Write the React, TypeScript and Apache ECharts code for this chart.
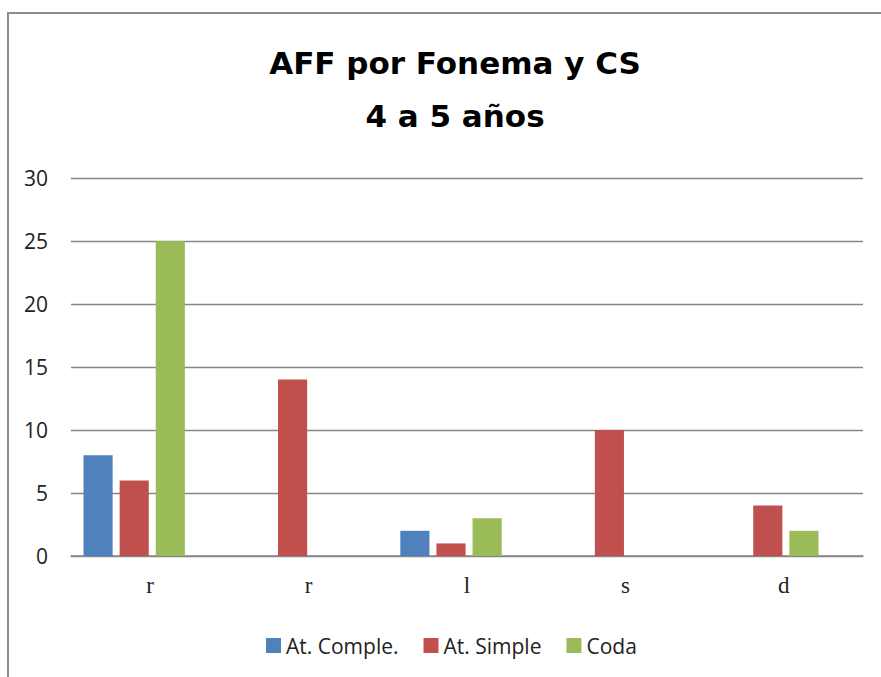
import React, { useEffect, useRef } from "react";
import * as echarts from "echarts";

const categories = ["r", "r", "l", "s", "d"];
const atComple = [8, 0, 2, 0, 0];
const atSimple = [6, 14, 1, 10, 4];
const coda = [25, 0, 3, 0, 2];
const seriesNames = ["At. Comple.", "At. Simple", "Coda"];
const titleText = "AFF por Fonema y CS\n4 a 5 años";

export default function App() {
  const ref = useRef<HTMLDivElement>(null);
  useEffect(() => {
    const chart = echarts.init(ref.current!, null, { renderer: "svg" });
    const font = "'Open Sans', Lato, sans-serif";
    const barCommon = { type: "bar", xAxisIndex: 1, yAxisIndex: 1, barGap: "24%", barCategoryGap: "36%" };
    chart.setOption({
      animation: false,
      backgroundColor: "#ffffff",
      title: {
        text: titleText,
        left: 450,
        top: 31,
        textAlign: "center",
        textStyle: {
          fontFamily: "'DejaVu Sans', sans-serif",
          fontWeight: "bold",
          fontSize: 31,
          lineHeight: 53,
          color: "#000000",
        },
      },
      graphic: [
        {
          type: "rect",
          shape: { x: 8, y: 13, width: 1000, height: 1000 },
          style: { fill: "none", stroke: "#8c8c8c", lineWidth: 2 },
          silent: true,
        },
      ],
      legend: {
        data: seriesNames,
        left: 261,
        top: 630,
        itemWidth: 15,
        itemHeight: 15,
        itemGap: 25,
        icon: "rect",
        textStyle: { fontFamily: font, fontSize: 21, color: "#222" },
      },
      grid: [
        { left: 71, right: 18, top: 178, bottom: 121 },
        { left: 55, right: 34, top: 178, bottom: 121 },
      ],
      xAxis: [
        {
          type: "category",
          gridIndex: 0,
          data: categories,
          axisLine: { show: true, lineStyle: { color: "#878787", width: 1.5 } },
          axisTick: { show: false },
          axisLabel: {
            fontFamily: "'Liberation Serif', serif",
            fontSize: 23,
            color: "#222",
            margin: 18,
          },
        },
        {
          type: "category",
          gridIndex: 1,
          data: categories,
          show: false,
        },
      ],
      yAxis: [
        {
          type: "value",
          gridIndex: 0,
          min: 0,
          max: 30,
          interval: 5,
          axisLine: { show: false },
          axisTick: { show: false },
          splitLine: { lineStyle: { color: "#878787", width: 1.3 } },
          axisLabel: {
            fontFamily: font,
            fontSize: 21,
            color: "#222",
            margin: 23,
          },
        },
        {
          type: "value",
          gridIndex: 1,
          min: 0,
          max: 30,
          interval: 5,
          show: false,
          splitLine: { show: false },
        },
      ],
      series: [
        { ...barCommon, name: seriesNames[0], data: atComple, itemStyle: { color: "#4F81BD" } },
        { ...barCommon, name: seriesNames[1], data: atSimple, itemStyle: { color: "#C0504D" } },
        { ...barCommon, name: seriesNames[2], data: coda, itemStyle: { color: "#9BBB59" } },
      ],
    });
    return () => chart.dispose();
  }, []);
  return (
    <div
      ref={ref}
      style={{ position: "absolute", left: 0, top: 0, width: 881, height: 677, background: "#fff" }}
    />
  );
}
